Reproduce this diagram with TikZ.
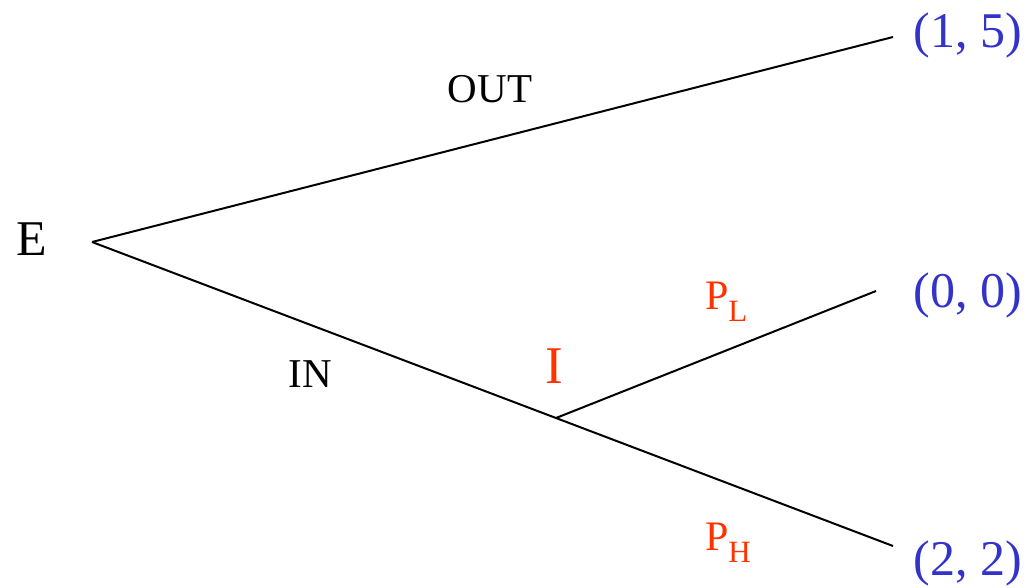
\documentclass[tikz,border=0pt]{standalone}
\usepackage{fontspec}
\setmainfont{Liberation Serif}
\usepackage{xcolor}
\definecolor{payblue}{RGB}{51,51,204}
\definecolor{movered}{RGB}{255,51,0}
\newcommand{\sizedtext}[2]{{\fontsize{#1}{#1}\selectfont #2}}
\newcommand{\pricelabel}[1]{P\raisebox{-12pt}{\sizedtext{31}{#1}}}

\begin{document}
\begin{tikzpicture}[x=1pt,y=-1pt,line width=2pt,
    payoff/.style={anchor=base,text=payblue,font=\fontsize{50}{50}\selectfont,inner sep=0pt},
    action/.style={anchor=base,font=\fontsize{41}{41}\selectfont,inner sep=0pt},
    price/.style={anchor=base west,text=movered,font=\fontsize{42}{42}\selectfont,inner sep=0pt}]
   \useasboundingbox (0,0) rectangle (1030,587);
   % game tree points
   \coordinate (root) at (92,242);
   \coordinate (inc) at (556,418);
   \coordinate (out) at (893,37);
   \coordinate (low) at (876,291);
   \coordinate (high) at (893,546);
   \draw (root) -- (out);
   \draw (root) -- (inc) -- (high);
   \draw (inc) -- (low);
   % players
   \node[anchor=base,inner sep=0pt,font=\fontsize{50}{50}\selectfont] (entrant) at (32,255) {E};
   \node[anchor=base,inner sep=0pt,text=movered,font=\fontsize{53}{53}\selectfont] (incumbent) at (554,383) {I};
   % moves
   \node[action] (outlabel) at (490,102) {OUT};
   \node[action] (inlabel) at (310,387) {IN};
   \node[price] (pl) at (704,309) {\pricelabel{L}};
   \node[price] (ph) at (704,550) {\pricelabel{H}};
   % payoffs
   \foreach \name/\y/\pay in {pay1/47/{(1, 5)},pay2/307/{(0, 0)},pay3/575/{(2, 2)}}
      \node[payoff] (\name) at (968,\y) {\pay};
\end{tikzpicture}
\end{document}
